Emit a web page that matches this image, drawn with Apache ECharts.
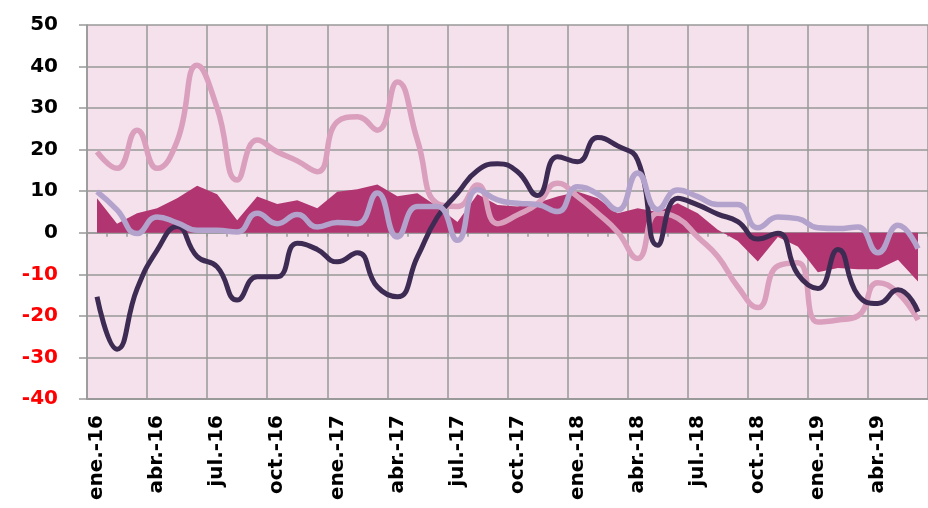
<!DOCTYPE html>
<html>
<head>
<meta charset="utf-8">
<script src="https://cdn.jsdelivr.net/npm/echarts@6/dist/echarts.min.js"></script>
<style>
html,body{margin:0;padding:0;background:#fff;}
#chart{width:928px;height:508px;}
</style>
</head>
<body>
<div id="chart"></div>
<script>
const monthNames = ['ene.','feb.','mar.','abr.','may.','jun.','jul.','ago.','sep.','oct.','nov.','dic.'];
const years = ['16','17','18','19'];
const categories = [];
for (const y of years) for (const m of monthNames) categories.push(m + '-' + y);
categories.length = 42; // ene.-16 .. jun.-19

const areaValues = [8.3,2.2,4.7,5.9,8.3,11.3,9.3,3,8.7,6.9,7.8,5.9,9.9,10.5,11.6,8.8,9.5,6.3,2.6,9.3,6.7,6.3,7.2,8.7,9.9,8.3,4.7,5.9,5,7.1,4.7,0.7,-2,-6.9,-1,-3.3,-9.5,-8.5,-8.8,-8.8,-6.5,-11.7];
const darkValues = [-15.4,-28,-13.5,-4.2,1.5,-5.7,-8.2,-16.2,-10.6,-10.6,-2.5,-4,-7,-4.8,-13,-15.4,-5.8,3.8,9.5,15,16.6,14.7,9,18.3,17.1,22.9,20.9,17.5,-3,8.3,6.7,4.5,2.7,-1.5,-0.1,-10,-13.4,-4,-15,-17,-13.7,-19];
const pinkValues = [19.5,15.5,24.7,15.5,22,40.3,30,12.7,22.3,19.5,17.3,14.7,26.7,27.9,24.7,36.3,22.3,7,6.3,11.5,2.2,4.3,7,11.9,8.7,4.7,0.2,-6.2,4.7,3.5,-1,-5.7,-13,-18,-8,-7.2,-21.5,-21,-20,-12,-14.5,-21];
const lavenderValues = [9.9,5.5,-0.2,3.8,2.4,0.6,0.6,0.2,4.7,2.2,4.4,1.4,2.5,2.2,9.6,-1,6.3,6.3,-1.8,10.4,7.9,7.1,6.8,5.1,11.1,9.3,5.5,14.4,5.6,10.3,8.7,6.8,6.8,1.2,3.8,3.4,1.2,1,1.4,-4.8,1.8,-3.8];
const yMin = -40, yMax = 50, yStep = 10;

const gridColor = '#999999';
const chart = echarts.init(document.getElementById('chart'), null, {renderer:'canvas'});
chart.setOption({
  animation: false,
  grid: {left: 87, right: 0, top: 25, bottom: 109, show: true, backgroundColor: '#F4E1EC', borderWidth: 0},
  xAxis: [{
    type: 'category', data: categories, boundaryGap: true, position: 'bottom',
    axisLine: {onZero: false, lineStyle: {color: gridColor, width: 2}},
    axisTick: {show: false},
    axisLabel: {interval: 2, rotate: 90, margin: 16, color: '#000', fontFamily: 'DejaVu Sans', fontWeight: 'bold', fontSize: 20},
    splitLine: {show: true, interval: 2, lineStyle: {color: gridColor, width: 1.5}}
  }, {
    type: 'category', data: categories, boundaryGap: true, position: 'bottom',
    axisLine: {onZero: true, lineStyle: {color: gridColor, width: 1.5}},
    axisTick: {show: true, interval: 0, length: 4, lineStyle: {color: gridColor, width: 1.5}},
    axisLabel: {show: false},
    splitLine: {show: false}
  }],
  yAxis: {
    type: 'value', min: yMin, max: yMax, interval: yStep,
    axisLine: {show: true, lineStyle: {color: gridColor, width: 1.5}},
    axisTick: {show: true, length: 8, lineStyle: {color: gridColor, width: 1.5}},
    axisLabel: {margin: 29, fontFamily: 'DejaVu Sans', fontWeight: 'bold', fontSize: 20,
      color: function (v) { return Number(v) < 0 ? '#FF0000' : '#000000'; }},
    splitLine: {show: true, lineStyle: {color: gridColor, width: 1.5}}
  },
  series: [
    {type: 'line', data: areaValues, symbol: 'none', smooth: false,
     lineStyle: {width: 0}, areaStyle: {color: '#B03570', opacity: 1}, z: 1},
    {type: 'line', data: pinkValues, symbol: 'none', smooth: 0.5,
     lineStyle: {color: '#DB9FBE', width: 5.5}, z: 2},
    {type: 'line', data: darkValues, symbol: 'none', smooth: 0.5,
     lineStyle: {color: '#3D2B53', width: 5}, z: 3},
    {type: 'line', data: lavenderValues, symbol: 'none', smooth: 0.5,
     lineStyle: {color: '#B3A2CC', width: 5.5}, z: 4}
  ]
});
</script>
</body>
</html>
